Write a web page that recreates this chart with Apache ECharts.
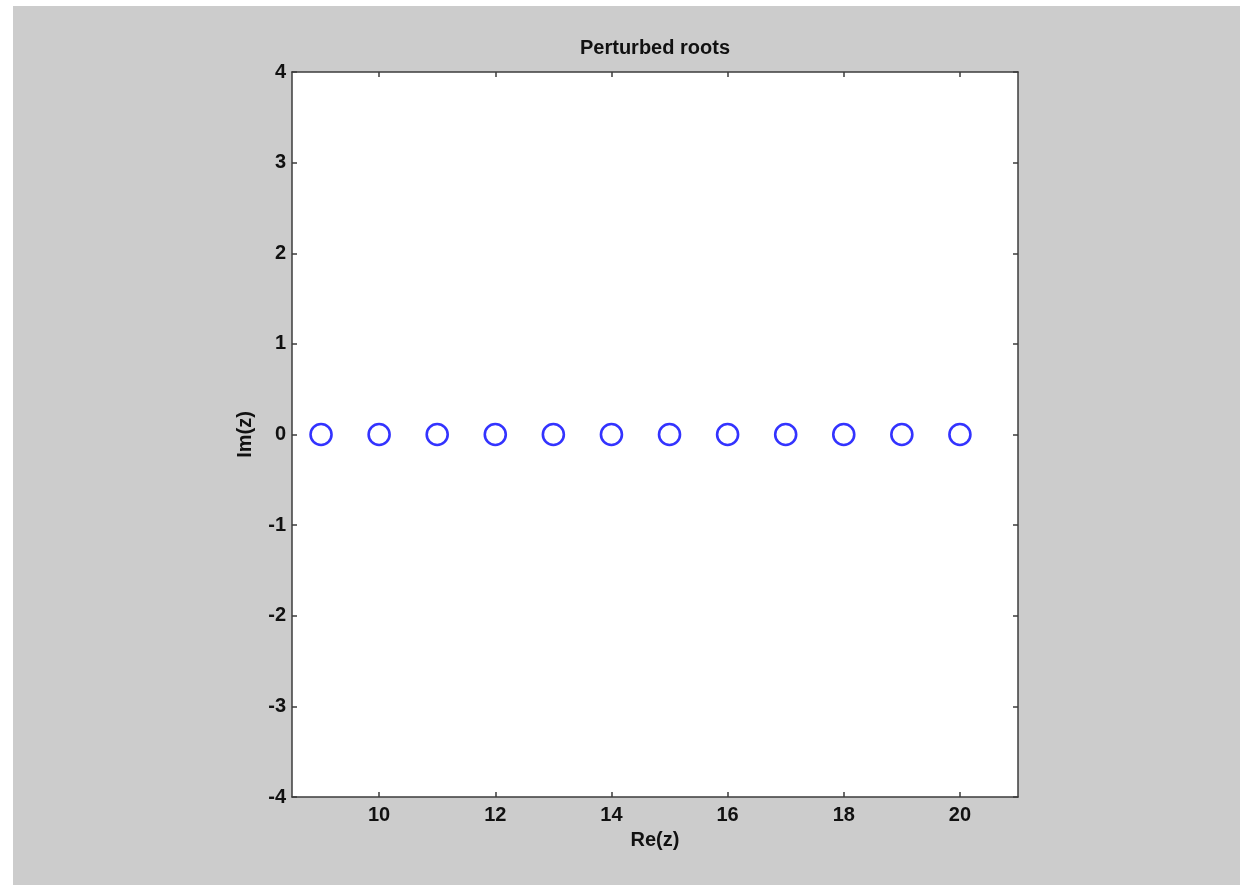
<!DOCTYPE html>
<html>
<head>
<meta charset="utf-8">
<title>Perturbed roots</title>
<script src="https://cdn.jsdelivr.net/npm/echarts@6/dist/echarts.min.js"></script>
<style>
  html, body { margin: 0; padding: 0; background: #ffffff; }
  #roots { position: absolute; left: 13px; top: 6px; width: 1227px; height: 879px; }
</style>
</head>
<body>
<div id="roots"></div>
<script>
// roots of the perturbed polynomial (real and imaginary parts)
var realParts = [9, 10, 11, 12, 13, 14, 15, 16, 17, 18, 19, 20];
var imagParts = [0, 0, 0, 0, 0, 0, 0, 0, 0, 0, 0, 0];
// axis ticks
var xTicks = [10, 12, 14, 16, 18, 20];
var yTicks = [-4, -3, -2, -1, 0, 1, 2, 3, 4];

var points = [];
realParts.forEach(function (re, i) {
  points.push([re, imagParts[i]]);
});

var font = "Liberation Sans, Arial, Helvetica, sans-serif";
var fontSize = 20;
var lineStyle = { color: "#3c3c3c", width: 1.5 };

function xAxisDef(pos, showLabels) {
  return {
    type: "value",
    position: pos,
    min: 8.5,
    max: 21,
    splitLine: { show: false },
    axisLine: { show: true, onZero: false, lineStyle: lineStyle },
    axisTick: { show: true, inside: true, length: 5, customValues: xTicks, lineStyle: lineStyle },
    axisLabel: {
      show: showLabels,
      customValues: xTicks,
      margin: 8,
      color: "#111",
      fontFamily: font,
      fontWeight: "bold",
      fontSize: fontSize,
    },
  };
}

function yAxisDef(pos, showLabels) {
  return {
    type: "value",
    position: pos,
    min: -4,
    max: 4,
    splitLine: { show: false },
    axisLine: { show: true, onZero: false, lineStyle: lineStyle },
    axisTick: { show: true, inside: true, length: 5, customValues: yTicks, lineStyle: lineStyle },
    axisLabel: {
      show: showLabels,
      customValues: yTicks,
      margin: 6,
      color: "#111",
      fontFamily: font,
      fontWeight: "bold",
      fontSize: fontSize,
    },
  };
}

var bottomX = xAxisDef("bottom", true);
bottomX.name = "Re(z)";
bottomX.nameLocation = "middle";
bottomX.nameGap = 33;
bottomX.nameTextStyle = { color: "#111", fontFamily: font, fontWeight: "bold", fontSize: fontSize };

var leftY = yAxisDef("left", true);
leftY.name = "Im(z)";
leftY.nameLocation = "middle";
leftY.nameGap = 37;
leftY.nameTextStyle = { color: "#111", fontFamily: font, fontWeight: "bold", fontSize: fontSize };

var myChart = echarts.init(document.getElementById("roots"));
myChart.setOption({
  backgroundColor: "#cccccc",
  animation: false,
  title: {
    text: "Perturbed roots",
    left: 642,
    top: 32,
    padding: 0,
    textAlign: "center",
    textStyle: { color: "#111", fontFamily: font, fontWeight: "bold", fontSize: fontSize },
  },
  grid: { left: 279, top: 66, right: 222, bottom: 88, show: true, backgroundColor: "#ffffff", borderWidth: 0 },
  xAxis: [bottomX, xAxisDef("top", false)],
  yAxis: [leftY, yAxisDef("right", false)],
  series: [
    {
      type: "scatter",
      data: points,
      symbol: "circle",
      symbolSize: 21,
      itemStyle: { color: "rgba(0,0,0,0)", borderColor: "#0000ff", borderWidth: 2.6 },
    },
  ],
});
</script>
</body>
</html>
